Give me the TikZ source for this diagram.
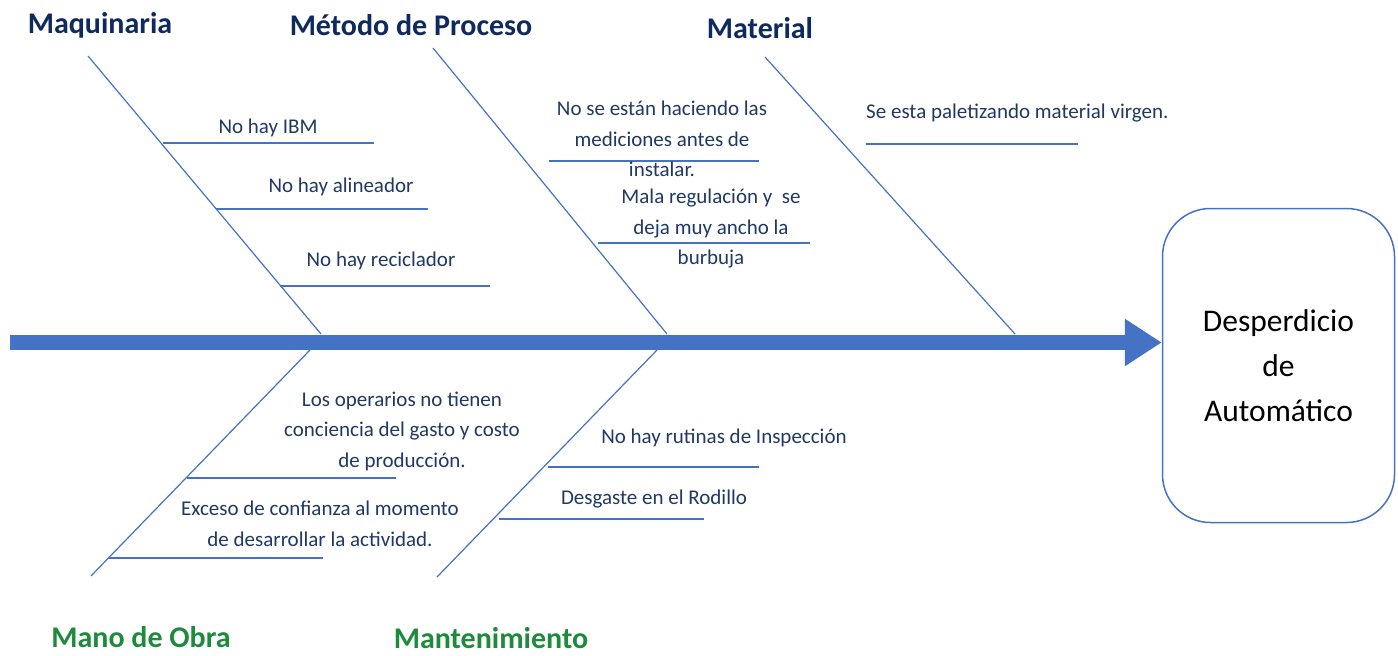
\documentclass[tikz,border=0pt]{standalone}
\usepackage{fontspec}
\setmainfont{Carlito}
\usepackage{tikz}
\usetikzlibrary{positioning, calc, arrows.meta}
\definecolor{SpineBlue}{HTML}{4472C4}
\definecolor{HeadNavy}{HTML}{0E2A5E}
\definecolor{TextNavy}{HTML}{1F3864}
\definecolor{HeadGreen}{HTML}{1E8A3C}

\begin{document}
\begin{tikzpicture}[x=1pt, y=-1pt]
  \tikzstyle{coord}=[inner sep=0pt, outer sep=0pt]
  \tikzstyle{bone}=[draw=SpineBlue, line width=1.2pt]
  \tikzstyle{cause}=[inner sep=0pt, text=TextNavy, font=\fontsize{21}{30.5}\selectfont, align=center]
  \tikzstyle{head}=[inner sep=0pt, text=HeadNavy, font=\fontsize{30}{36}\selectfont\bfseries]
  \tikzstyle{headlow}=[head, text=HeadGreen]
  \useasboundingbox (0,0) rectangle (1398,656);

  % effect box
  \node (effect) at (1278.5,365.5) [draw=SpineBlue, line width=1.5pt, rounded corners=48pt,
    minimum width=232pt, minimum height=314pt, align=center, font=\fontsize{31.5}{45}\selectfont] {Desperdicio\\ de\\ Automático};

  % spine
  \coordinate (tail) at (10,342.5);
  \draw[SpineBlue, line width=15pt, -{Triangle[length=37pt, width=45pt]}] (tail) -- (tail -| effect.west);

  % main bones
  \foreach \r/\xa/\ya/\xb/\yb in {mach/88/56/321/334, meth/433/48/667/334, mat/765/57/1015/334,
      labor/91/576/310/350, maint/437/577/657/350} {
    \coordinate (\r start) at (\xa,\ya);
    \coordinate (\r end) at (\xb,\yb);
    \draw[bone] (\r start) -- (\r end);
  }

  % ribs
  \foreach \r/\xa/\xb/\y in {ibm/163/374/143, aligner/216/428/209, recyc/280/490/286,
      meas/549/759/161, bubble/598/810/243, virgin/866/1078/144,
      aware/187/396/478, trust/109/323/558, insp/548/759/467, roll/499/704/519} {
    \coordinate (\r a) at (\xa,\y);
    \coordinate (\r b) at (\xb,\y);
    \draw[bone] (\r a) -- (\r b);
  }

  % causes
  \node (ibmtext) at (268,128) [cause] {No hay IBM};
  \node (alignertext) at (341,187) [cause] {No hay alineador};
  \node (recyctext) at (381,261) [cause] {No hay reciclador};
  \node (meastext) at (662,139) [cause] {No se están haciendo las\\ mediciones antes de\\ instalar.};
  \node (bubbletext) at (711,229) [cause] {Mala regulación y\ \ se\\ deja muy ancho la\\ burbuja};
  \node (virgintext) at (866,113) [cause, anchor=west] {Se esta paletizando material virgen.};
  \node (awaretext) at (402,431) [cause] {Los operarios no tienen\\ conciencia del gasto y costo\\ de producción.};
  \node (trusttext) at (320,524) [cause] {Exceso de confianza al momento\\ de desarrollar la actividad.};
  \node (insptext) at (724,438) [cause] {No hay rutinas de Inspección};
  \node (rolltext) at (654,499) [cause] {Desgaste en el Rodillo};

  % categories
  \node (machhead) at (100,25) [head] {Maquinaria};
  \node (methhead) at (411,25) [head] {Método de Proceso};
  \node (mathead) at (760,28) [head] {Material};
  \node (laborhead) at (141,637) [headlow] {Mano de Obra};
  \node (mainthead) at (491,638) [headlow] {Mantenimiento};
\end{tikzpicture}
\end{document}
